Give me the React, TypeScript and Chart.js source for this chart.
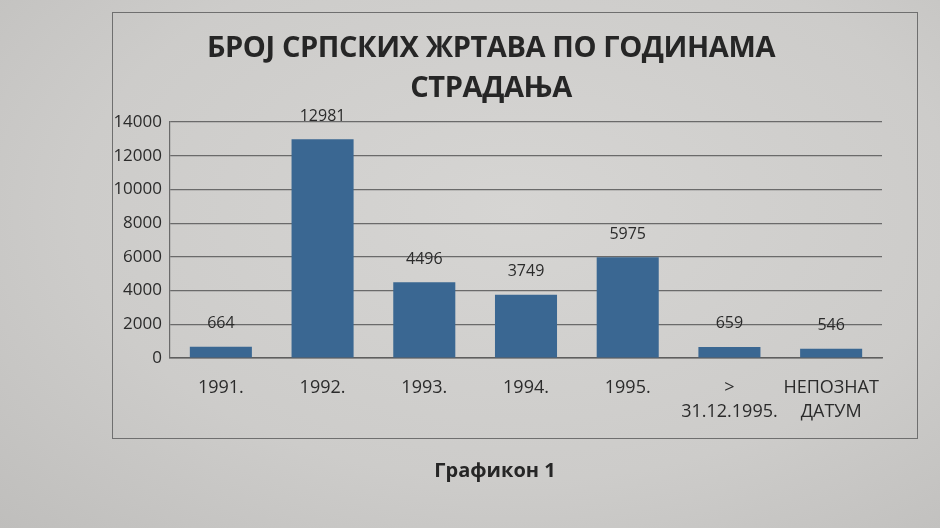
import React, { useEffect, useRef } from "react";
import { Chart, registerables } from "chart.js";

Chart.register(...registerables);

const categories: (string | string[])[] = [
  "1991.",
  "1992.",
  "1993.",
  "1994.",
  "1995.",
  [">", "31.12.1995."],
  ["НЕПОЗНАТ", "ДАТУМ"],
];
const victims: number[] = [664, 12981, 4496, 3749, 5975, 659, 546];
const titleLines: string[] = ["БРОЈ СРПСКИХ ЖРТАВА ПО ГОДИНАМА", "СТРАДАЊА"];
const caption = "Графикон 1";
const yMax = 14000;
const yStep = 2000;

const FONT = "'Open Sans', 'Noto Sans', sans-serif";
const TEXT = "#2b2b2b";
const BAR = "#3a6792";

const valueLabels = {
  id: "valueLabels",
  afterDatasetsDraw(chart: any) {
    const ctx = chart.ctx;
    const meta = chart.getDatasetMeta(0);
    ctx.save();
    ctx.font = `16px ${FONT}`;
    ctx.fillStyle = TEXT;
    ctx.textAlign = "center";
    ctx.textBaseline = "middle";
    meta.data.forEach((bar: any, i: number) => {
      ctx.fillText(String(victims[i]), bar.x, bar.y - 23);
    });
    ctx.restore();
  },
};

export default function App() {
  const canvasRef = useRef<HTMLCanvasElement | null>(null);

  useEffect(() => {
    const prev = document.body.style.margin;
    document.body.style.margin = "0";
    const chart = new Chart(canvasRef.current as HTMLCanvasElement, {
      type: "bar",
      data: {
        labels: categories as any,
        datasets: [
          {
            data: victims,
            backgroundColor: BAR,
            borderWidth: 0,
            barPercentage: 0.61,
            categoryPercentage: 1,
          },
        ],
      },
      options: {
        animation: false,
        responsive: false,
        maintainAspectRatio: false,
        layout: { padding: { top: 42, right: 58, left: 0, bottom: 0 } },
        plugins: {
          legend: { display: false },
          tooltip: { enabled: false },
          title: { display: false },
        },
        scales: {
          x: {
            grid: { display: false, drawTicks: false },
            border: { display: true, color: "#5e5e5e", width: 1.5 },
            ticks: {
              color: TEXT,
              font: { family: FONT, size: 18, lineHeight: 1.33 },
              padding: 18,
              maxRotation: 0,
              autoSkip: false,
            },
            afterFit: (scale: any) => {
              scale.height = 82;
            },
          },
          y: {
            min: 0,
            max: yMax,
            grid: { color: "#6a6a6a", lineWidth: 1.2, drawTicks: false },
            border: { display: true, color: "#6a6a6a", width: 1.2 },
            ticks: {
              stepSize: yStep,
              color: TEXT,
              font: { family: FONT, size: 17 },
              padding: 8,
              callback: (v: any) => String(v),
            },
            afterFit: (scale: any) => {
              scale.width = 170;
            },
          },
        },
      },
      plugins: [valueLabels],
    });
    return () => {
      chart.destroy();
      document.body.style.margin = prev;
    };
  }, []);

  return (
    <div
      style={{
        position: "fixed",
        left: 0,
        top: 0,
        width: 940,
        height: 528,
        overflow: "hidden",
        background:
          "radial-gradient(ellipse at 55% 40%, #d6d5d3 0%, #cdccca 60%, #bfbebc 100%)",
        fontFamily: FONT,
        color: TEXT,
      }}
    >
      <div
        style={{
          position: "absolute",
          left: 112,
          top: 12,
          width: 806,
          height: 427,
          border: "1.5px solid #6f6f6f",
          boxSizing: "border-box",
        }}
      />
      <div
        style={{
          position: "absolute",
          left: 0,
          width: 982,
          top: 26,
          textAlign: "center",
          fontWeight: 700,
          fontSize: 29,
          lineHeight: "40px",
          letterSpacing: -0.4,
          color: "#262626",
        }}
      >
        {titleLines.map((t, i) => (
          <div key={i}>{t}</div>
        ))}
      </div>
      <canvas
        ref={canvasRef}
        width={940}
        height={360}
        style={{ position: "absolute", left: 0, top: 80, width: 940, height: 360 }}
      />
      <div
        style={{
          position: "absolute",
          left: 0,
          width: 990,
          top: 456,
          textAlign: "center",
          fontWeight: 700,
          fontSize: 20,
          color: "#262626",
        }}
      >
        {caption}
      </div>
    </div>
  );
}
